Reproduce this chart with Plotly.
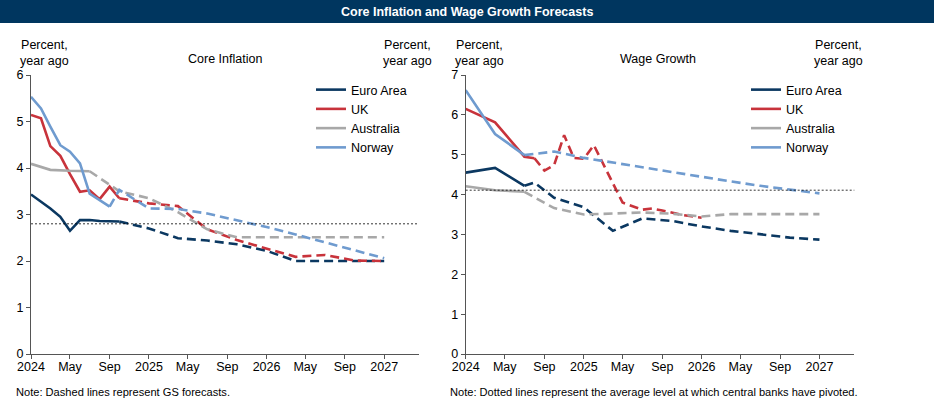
import plotly.graph_objects as go

# -------------------------------------------------------
# Data
# -------------------------------------------------------
# Core inflation, % yoy
ci_euro_act_x = ["2024-01-01", "2024-02-01", "2024-03-01", "2024-04-01", "2024-05-01",
                 "2024-06-01", "2024-07-01", "2024-08-01", "2024-09-01", "2024-10-01"]
ci_euro_act = [3.43, 3.28, 3.13, 2.95, 2.65, 2.88, 2.88, 2.86, 2.85, 2.85]
ci_uk_act = [5.14, 5.07, 4.47, 4.26, 3.87, 3.49, 3.52, 3.33, 3.60, 3.35]
ci_nor_act_x = ci_euro_act_x[:9]
ci_nor_act = [5.53, 5.28, 4.89, 4.49, 4.35, 4.10, 3.45, 3.31, 3.17]
ci_aus_act_x = ["2024-01-01", "2024-03-01", "2024-05-01", "2024-07-01"]
ci_aus_act = [4.09, 3.96, 3.94, 3.93]

ci_fc_x = ["2024-10-01", "2025-01-01", "2025-04-01", "2025-07-01", "2025-10-01",
           "2026-01-01", "2026-04-01", "2026-07-01", "2026-10-01", "2027-01-01"]
ci_euro_fc = [2.85, 2.70, 2.49, 2.44, 2.36, 2.22, 2.00, 2.00, 2.00, 2.00]
ci_uk_fc = [3.35, 3.24, 3.18, 2.68, 2.45, 2.26, 2.09, 2.13, 2.01, 2.00]
ci_nor_fc_x = ["2024-09-01"] + ci_fc_x
ci_nor_fc = [3.17, 3.53, 3.13, 3.12, 3.02, 2.88, 2.73, 2.57, 2.40, 2.23, 2.06]
ci_aus_fc_x = ["2024-07-01"] + ci_fc_x
ci_aus_fc = [3.93, 3.50, 3.35, 3.05, 2.68, 2.51, 2.51, 2.51, 2.51, 2.51, 2.51]
ci_pivot = 2.80

# Wage growth, % yoy
wg_act_x = ["2024-01-01", "2024-04-01", "2024-07-01"]
wg_euro_act = [4.55, 4.67, 4.22]
wg_aus_act = [4.21, 4.11, 4.07]
wg_nor_act = [6.62, 5.52, 4.99]
wg_uk_act_x = wg_act_x + ["2024-08-01"]
wg_uk_act = [6.15, 5.81, 4.95, 4.91]

wg_fc_x = ["2024-07-01", "2024-10-01", "2025-01-01", "2025-04-01", "2025-07-01", "2025-10-01",
           "2026-01-01", "2026-04-01", "2026-07-01", "2026-10-01", "2027-01-01"]
wg_euro_fc_x = ["2024-07-01", "2024-08-01"] + wg_fc_x[1:]
wg_euro_fc = [4.22, 4.30, 3.92, 3.68, 3.09, 3.40, 3.34, 3.20, 3.09, 3.00, 2.92, 2.87]
wg_aus_fc = [4.07, 3.66, 3.50, 3.53, 3.55, 3.52, 3.45, 3.51, 3.51, 3.51, 3.51]
wg_nor_fc = [4.99, 5.08, 4.92, 4.80, 4.68, 4.57, 4.45, 4.33, 4.22, 4.12, 4.03]
wg_uk_fc_x = ["2024-08-01", "2024-09-01", "2024-10-01", "2024-11-01", "2024-12-01",
              "2025-01-01", "2025-02-01", "2025-05-01", "2025-07-01", "2025-08-01",
              "2025-09-01", "2025-11-01", "2026-01-01"]
wg_uk_fc = [4.91, 4.60, 4.74, 5.49, 4.92, 4.90, 5.24, 3.80, 3.62, 3.65, 3.60, 3.49, 3.42]
wg_pivot = 4.11

tick_vals = ["2024-01-01", "2024-05-01", "2024-09-01", "2025-01-01", "2025-05-01",
             "2025-09-01", "2026-01-01", "2026-05-01", "2026-09-01", "2027-01-01"]
tick_text = ["2024", "May", "Sep", "2025", "May", "Sep", "2026", "May", "Sep", "2027"]

NAVY = "#0b3861"
RED = "#c8333b"
GRAY = "#a8a8a8"
BLUE = "#6f9bcf"
FONT = "Liberation Sans, Arial, sans-serif"
W, H = 934, 415

fig = go.Figure()


def add_pair(name, color, ax, ay, fx, fy, xa, ya, legend):
    # solid = actuals (shown in legend), dashed = GS forecast
    fig.add_trace(go.Scatter(x=ax, y=ay, mode="lines", name=name,
                             line=dict(color=color, width=2.6),
                             xaxis=xa, yaxis=ya, legend=legend, showlegend=True))
    fig.add_trace(go.Scatter(x=fx, y=fy, mode="lines", name=name,
                             line=dict(color=color, width=2.6, dash="9px,5px"),
                             xaxis=xa, yaxis=ya, showlegend=False))


add_pair("Euro Area", NAVY, ci_euro_act_x, ci_euro_act, ci_fc_x, ci_euro_fc, "x", "y", "legend")
add_pair("UK", RED, ci_euro_act_x, ci_uk_act, ci_fc_x, ci_uk_fc, "x", "y", "legend")
add_pair("Australia", GRAY, ci_aus_act_x, ci_aus_act, ci_aus_fc_x, ci_aus_fc, "x", "y", "legend")
add_pair("Norway", BLUE, ci_nor_act_x, ci_nor_act, ci_nor_fc_x, ci_nor_fc, "x", "y", "legend")

add_pair("Euro Area", NAVY, wg_act_x, wg_euro_act, wg_euro_fc_x, wg_euro_fc, "x2", "y3", "legend2")
add_pair("UK", RED, wg_uk_act_x, wg_uk_act, wg_uk_fc_x, wg_uk_fc, "x2", "y3", "legend2")
add_pair("Australia", GRAY, wg_act_x, wg_aus_act, wg_fc_x, wg_aus_fc, "x2", "y3", "legend2")
add_pair("Norway", BLUE, wg_act_x, wg_nor_act, wg_fc_x, wg_nor_fc, "x2", "y3", "legend2")

# plot area positions (px -> paper)
y_dom = [1 - 354 / H, 1 - 75 / H]
x1_dom = [31 / W, 419 / W]
x2_dom = [465.7 / W, 854.3 / W]
x_range = ["2024-01-01", "2027-04-19"]

axis_common = dict(showgrid=False, zeroline=False, showline=True, linecolor="#555555",
                   linewidth=1, ticks="outside", ticklen=4, tickcolor="#555555",
                   automargin=False,
                   tickfont=dict(size=12.5, color="black", family=FONT))

xaxis = dict(axis_common, type="date", range=x_range, tickvals=tick_vals, ticktext=tick_text,
             ticklabelstandoff=-3)

fig.update_layout(
    template="none",
    width=W, height=H,
    margin=dict(l=0, r=0, t=0, b=0, autoexpand=False),
    plot_bgcolor="white", paper_bgcolor="white",
    font=dict(family=FONT, color="black"),
    xaxis=dict(xaxis, domain=x1_dom, anchor="y"),
    yaxis=dict(axis_common, domain=y_dom, range=[0, 6], dtick=1, anchor="x"),
    yaxis2=dict(axis_common, range=[0, 6], dtick=1, overlaying="y", side="right", anchor="x"),
    xaxis2=dict(xaxis, domain=x2_dom, anchor="y3"),
    yaxis3=dict(axis_common, domain=y_dom, range=[0, 7], dtick=1, anchor="x2"),
    yaxis4=dict(axis_common, range=[0, 7], dtick=1, overlaying="y3", side="right", anchor="x2"),
    legend=dict(x=311 / W, y=1 - 75 / H, xanchor="left", yanchor="top",
                font=dict(size=12.5), bgcolor="rgba(0,0,0,0)", tracegroupgap=0),
    legend2=dict(x=746 / W, y=1 - 75 / H, xanchor="left", yanchor="top",
                 font=dict(size=12.5), bgcolor="rgba(0,0,0,0)", tracegroupgap=0),
)

# pivot reference lines
fig.add_shape(type="line", xref="x domain", yref="y", x0=0, x1=1, y0=ci_pivot, y1=ci_pivot,
              line=dict(color="black", width=0.8, dash="2px,2px"))
fig.add_shape(type="line", xref="x2 domain", yref="y3", x0=0, x1=1, y0=wg_pivot, y1=wg_pivot,
              line=dict(color="black", width=0.8, dash="2px,2px"))

# title bar
fig.add_shape(type="rect", xref="paper", yref="paper", x0=0, x1=1, y0=1 - 23 / H, y1=1,
              fillcolor="#00365f", line=dict(width=0), layer="below")


def label(x, y, text, size=12.5, color="black", xanchor="center"):
    fig.add_annotation(x=x / W, y=1 - y / H, xref="paper", yref="paper", showarrow=False,
                       xanchor=xanchor, yanchor="middle", text=text, align="center",
                       font=dict(size=size, color=color))


label(467, 12, "<b>Core Inflation and Wage Growth Forecasts</b>", color="white")

# panel titles and axis units
label(225, 59, "Core Inflation")
label(658, 59, "Wage Growth")
for xc in [44, 407, 479, 838]:
    label(xc, 53, "Percent,<br>year ago")

# notes
label(14, 392, "Note: Dashed lines represent GS forecasts.", size=11.1, xanchor="left")
label(448, 392, "Note: Dotted lines represent the average level at which central banks have pivoted.",
      size=11.1, xanchor="left")

fig.write_html("out.html", config={"displayModeBar": False},
               post_script="document.body.style.margin='0';")
